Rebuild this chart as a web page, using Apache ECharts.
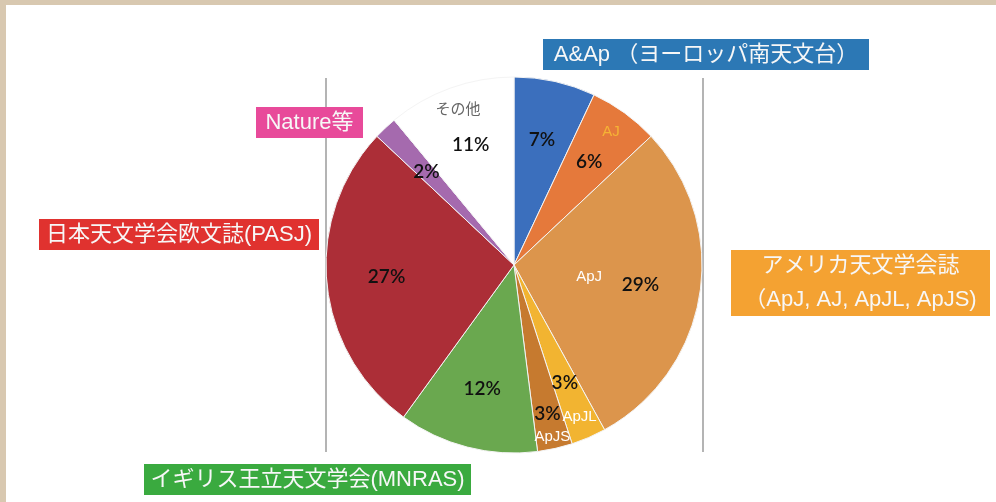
<!DOCTYPE html>
<html>
<head>
<meta charset="utf-8">
<script src="https://cdn.jsdelivr.net/npm/echarts@6/dist/echarts.min.js"></script>
<style>
  html, body { margin: 0; padding: 0; background: #fff; }
  #main { width: 996px; height: 502px; }
</style>
</head>
<body>
<div id="main"></div>
<script>
// journals, clockwise from 12 o'clock
var names = ['A&Ap', 'AJ', 'ApJ', 'ApJL', 'ApJS', 'MNRAS', 'PASJ', 'Nature', 'その他'];
var values = [7, 6, 29, 3, 3, 12, 27, 2, 11];
var sliceColors = ['#3b6fbd', '#e5793b', '#dc954c', '#f2b431', '#c67a2f', '#6aa84f', '#ac2e37', '#a56aae', '#ffffff'];
// small names written inside the slices
var subNames = ['', 'AJ', 'ApJ', 'ApJL', 'ApJS', '', '', '', 'その他'];
var subColors = ['', '#f5b335', '#ffffff', '#ffffff', '#ffffff', '', '', '', '#666666'];
// boxed captions
var boxTexts = ['A&Ap （ヨーロッパ南天文台）', 'アメリカ天文学会誌\n（ApJ, AJ, ApJL, ApJS)', 'イギリス王立天文学会(MNRAS)', '日本天文学会欧文誌(PASJ)', 'Nature等'];
var boxColors = ['#2c78b5', '#f4a232', '#3aaa3f', '#e0322f', '#e84a9a'];

var center = [514, 265];
var R = 188;

var myChart = echarts.init(document.getElementById('main'));

// transparent pie used only to place text at a given radius
function labelLayer(r0, r1, showList, useName, fontSize) {
    var data = [];
    for (var i = 0; i < values.length; i++) {
        data.push({
            name: names[i],
            value: values[i],
            label: {
                show: showList.indexOf(i) >= 0,
                color: useName ? subColors[i] : '#111',
                formatter: useName ? subNames[i] : values[i] + '%'
            }
        });
    }
    return {
        type: 'pie',
        center: center,
        radius: [r0, r1],
        startAngle: 90,
        silent: true,
        z: 5,
        itemStyle: { color: 'rgba(0,0,0,0)', borderWidth: 0 },
        label: {
            position: 'inside',
            fontSize: fontSize,
            fontFamily: useName ? "'Liberation Sans', 'Noto Sans CJK JP'" : 'Lato',
            fontWeight: useName ? 'normal' : 600
        },
        labelLine: { show: false },
        emphasis: { disabled: true },
        data: data
    };
}

function box(x, y, w, h, idx) {
    return {
        type: 'group',
        children: [
            { type: 'rect', shape: { x: x, y: y, width: w, height: h }, style: { fill: boxColors[idx] } },
            {
                type: 'text', x: x + w / 2, y: y + h / 2,
                style: {
                    text: boxTexts[idx], fill: '#f7f7f7', align: 'center', verticalAlign: 'middle',
                    fontSize: 22, lineHeight: 34, fontFamily: "'Liberation Sans', 'Noto Sans CJK JP'"
                }
            }
        ]
    };
}

var sliceData = [];
for (var i = 0; i < values.length; i++) {
    sliceData.push({ name: names[i], value: values[i], itemStyle: { color: sliceColors[i] } });
}

var option = {
    backgroundColor: '#ffffff',
    animation: false,
    series: [
        {
            type: 'pie',
            center: center,
            radius: [0, R],
            startAngle: 90,
            itemStyle: { borderColor: '#f4f4f4', borderWidth: 1 },
            label: { show: false },
            labelLine: { show: false },
            emphasis: { disabled: true },
            data: sliceData
        },
        labelLayer(0, 250, [0, 1, 2, 3, 5, 6, 7, 8], false, 19),
        labelLayer(100, 200, [4], false, 19),
        labelLayer(124, 200, [1, 3, 8], true, 15),
        labelLayer(146, 200, [4], true, 15),
        labelLayer(0, 146, [2], true, 15)
    ],
    graphic: [
        // frame
        { type: 'rect', shape: { x: 0, y: 0, width: 996, height: 5 }, style: { fill: '#d8c8b0' } },
        { type: 'rect', shape: { x: 0, y: 0, width: 6, height: 502 }, style: { fill: '#d8c8b0' } },
        // vertical guide lines
        { type: 'line', shape: { x1: 326, y1: 78, x2: 326, y2: 452 }, style: { stroke: '#b4b4b4', lineWidth: 2 } },
        { type: 'line', shape: { x1: 703, y1: 78, x2: 703, y2: 452 }, style: { stroke: '#b4b4b4', lineWidth: 2 } },
        box(543, 39, 326, 31, 0),
        box(731, 250, 259, 66, 1),
        box(144, 464, 327, 31, 2),
        box(39, 219, 280, 31, 3),
        box(256, 107, 107, 31, 4)
    ]
};
myChart.setOption(option);
</script>
</body>
</html>
